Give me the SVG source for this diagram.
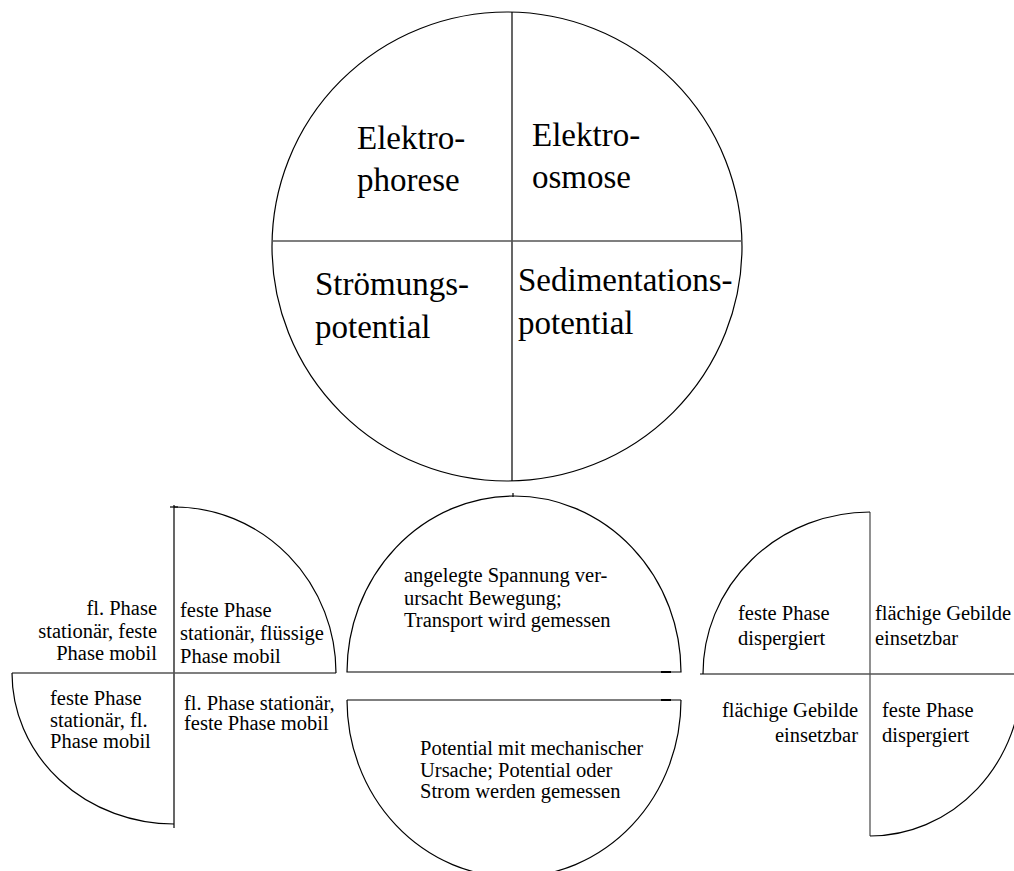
<svg xmlns="http://www.w3.org/2000/svg" width="1014" height="871" viewBox="0 0 1014 871">
<style>
.ln{fill:none;stroke:#000;stroke-width:1.2}
.gl{fill:none;stroke:#555;stroke-width:1.3}
.big{font-family:"Liberation Serif","Times New Roman","DejaVu Serif",serif;font-size:33px;fill:#000}
.sm{font-family:"Liberation Serif","Times New Roman","DejaVu Serif",serif;font-size:20.5px;fill:#000}
.e{text-anchor:end}
</style>
<rect width="1014" height="871" fill="#fff"/>
<g id="main-circle">
<ellipse class="ln" cx="507" cy="246.5" rx="235" ry="234.5"/>
<line class="ln" x1="512" y1="12" x2="512" y2="481"/>
<line class="gl" x1="272" y1="241" x2="742" y2="241"/>
<text class="big" x="357" y="149">Elektro-</text>
<text class="big" x="357" y="191">phorese</text>
<text class="big" x="532" y="146">Elektro-</text>
<text class="big" x="532" y="188">osmose</text>
<text class="big" x="315" y="295">Strömungs-</text>
<text class="big" x="315" y="338">potential</text>
<text class="big" x="518" y="291">Sedimentations-</text>
<text class="big" x="518" y="334">potential</text>
</g>
<g id="left-quarters">
<line class="ln" x1="174" y1="505" x2="174" y2="828"/>
<line class="ln" x1="170" y1="507" x2="178" y2="507"/>
<line class="gl" x1="12" y1="673" x2="336" y2="673"/>
<path class="ln" d="M174,507 A162,166 0 0 1 336,673"/>
<path class="ln" d="M12,673 A162,151 0 0 0 174,824"/>
<text class="sm e" x="157" y="615">fl. Phase</text>
<text class="sm e" x="157" y="638">stationär, feste</text>
<text class="sm e" x="157" y="660">Phase mobil</text>
<text class="sm" x="180" y="617">feste Phase</text>
<text class="sm" x="180" y="640">stationär, flüssige</text>
<text class="sm" x="180" y="663">Phase mobil</text>
<text class="sm" x="50" y="705">feste Phase</text>
<text class="sm" x="50" y="727">stationär, fl.</text>
<text class="sm" x="50" y="748">Phase mobil</text>
<text class="sm" x="184" y="710">fl. Phase stationär,</text>
<text class="sm" x="184" y="730">feste Phase mobil</text>
</g>
<g id="upper-half">
<path class="ln" d="M347,672 A167,176 0 0 1 681,672 Z"/>
<line class="ln" x1="513" y1="493" x2="513" y2="497"/>
<line x1="661" y1="672" x2="671" y2="672" stroke="#000" stroke-width="2"/>
<text class="sm" x="404" y="582">angelegte Spannung ver-</text>
<text class="sm" x="404" y="605">ursacht Bewegung;</text>
<text class="sm" x="404" y="627">Transport wird gemessen</text>
</g>
<g id="lower-half">
<path class="ln" d="M347,700 L681,700 M347,700 A167,177 0 0 0 681,700"/>
<line x1="661" y1="700" x2="671" y2="700" stroke="#000" stroke-width="2"/>
<text class="sm" x="420" y="755">Potential mit mechanischer</text>
<text class="sm" x="420" y="777">Ursache; Potential oder</text>
<text class="sm" x="420" y="798">Strom werden gemessen</text>
</g>
<g id="right-quarters">
<line class="gl" x1="870" y1="512" x2="870" y2="836"/>
<line class="gl" x1="700" y1="674" x2="1014" y2="674"/>
<path class="ln" d="M703,674 A167,162 0 0 1 870,512"/>
<path class="ln" d="M870,836 A152,162 0 0 0 1022,674"/>
<text class="sm" x="738" y="620">feste Phase</text>
<text class="sm" x="738" y="645">dispergiert</text>
<text class="sm" x="875" y="620">flächige Gebilde</text>
<text class="sm" x="875" y="645">einsetzbar</text>
<text class="sm e" x="858" y="717">flächige Gebilde</text>
<text class="sm e" x="858" y="742">einsetzbar</text>
<text class="sm" x="882" y="717">feste Phase</text>
<text class="sm" x="882" y="742">dispergiert</text>
</g>
<g id="connectors"></g>
</svg>
